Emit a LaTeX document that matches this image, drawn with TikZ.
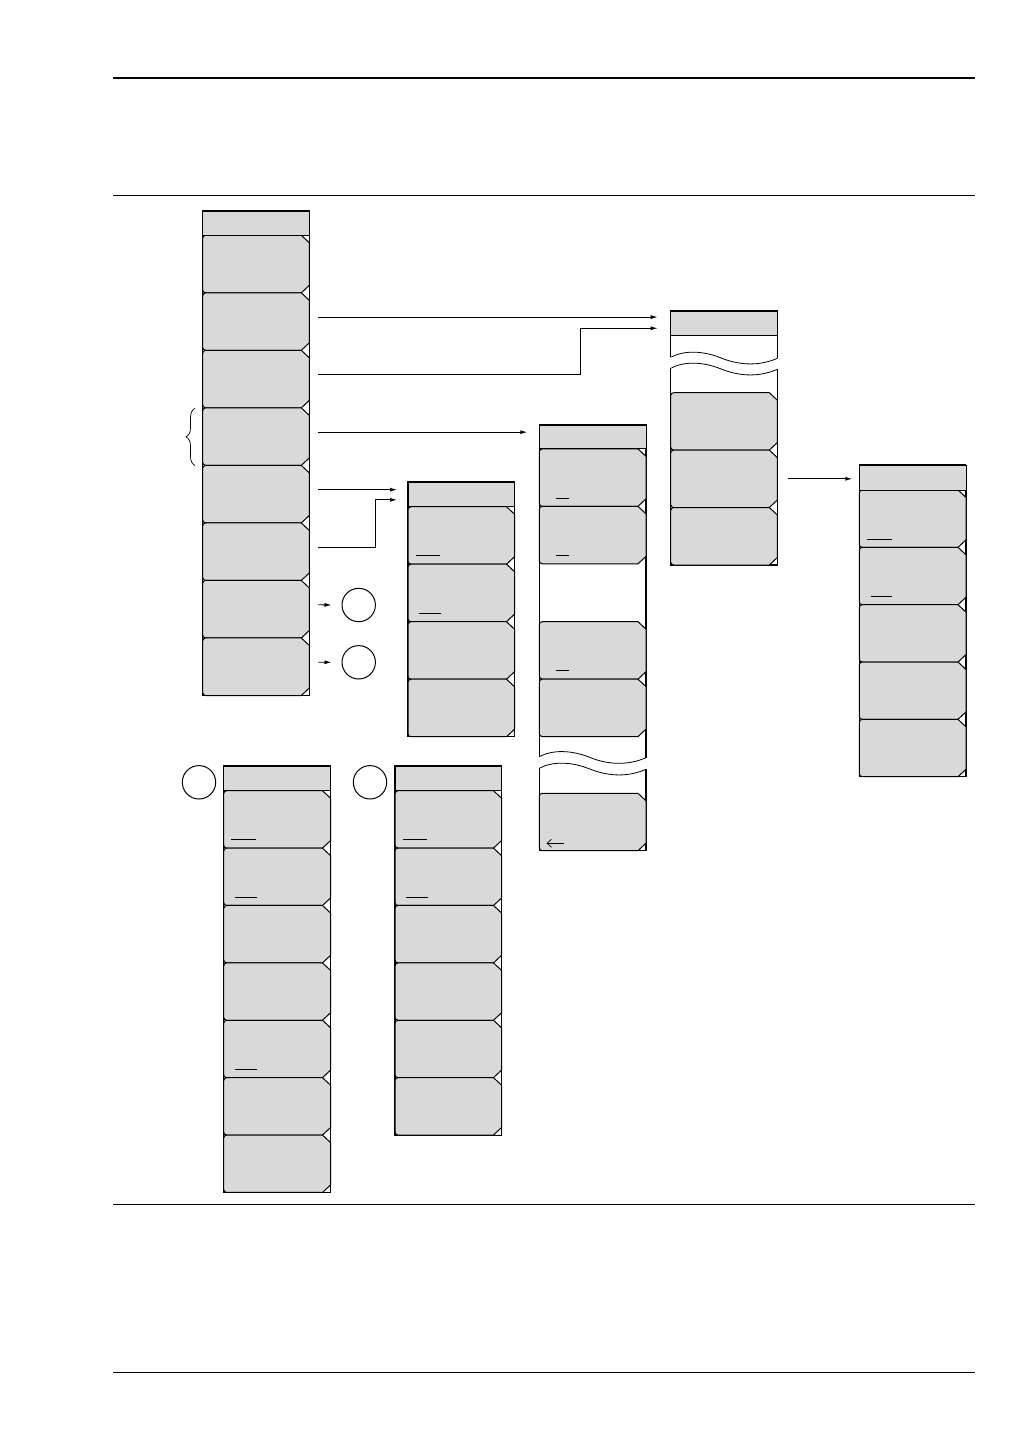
\documentclass[tikz,border=0pt]{standalone}
\usetikzlibrary{arrows.meta,fit,calc,decorations.pathreplacing}
\definecolor{keygray}{RGB}{217,217,217}
\tikzset{
  keynode/.style={inner sep=0pt,outer sep=0pt},
  keyshape/.style={fill=keygray,draw=black,line width=1pt,rounded corners=3pt},
  ttlbox/.style={inner sep=0pt,outer sep=0pt,fill=keygray,draw=black,line width=1pt},
  frame/.style={draw=black,line width=1.1pt},
  wave/.style={draw=black,line width=0.8pt},
  arr/.style={line width=0.9pt,-{Latex[length=7pt,width=4pt]}},
  circ/.style={circle,draw=black,line width=1pt,minimum size=33.4pt,inner sep=0pt},
  uline/.style={line width=0.9pt},
  rule/.style={line width=1pt},
}
\newcommand\skey[5]{%
  \node[keynode,fit={(#2,#3) (#4,#5)}] (#1) {};
  \draw[keyshape] ({#2+15},#5) -- (#2,#5) -- (#2,#3) -- ({#2+15},#3) [sharp corners]
    -- ({#4-8},#3) -- (#4,{#3+7.5}) -- (#4,{#5-7.5}) -- ({#4-8},#5) -- cycle;
}
\newcommand\mtitle[5]{%
  \node[ttlbox,fit={(#2,#3) (#4,#5)}] (#1) {};
  \draw[line width=2pt] (#2,#3) -- (#4,#3);
}
\newcommand\menublock[7]{% name L R titleTop titleBot nkeys step
  \draw[frame] (#2,#4) rectangle (#3,{#5+#6*#7});
  \foreach \i in {1,...,#6}{%
    \pgfmathsetmacro\kt{#5+(\i-1)*#7}%
    \pgfmathsetmacro\kb{#5+\i*#7}%
    \skey{#1k\i}{#2}{\kt}{#3}{\kb}%
  }
  \mtitle{#1t}{#2}{#4}{#3}{#5}%
}
\newcommand\wavepath[3]{% L R y0
  \draw[wave] (#1,#3) .. controls ({#1+0.12*(#2-#1)},{#3-7}) and ({#1+0.3*(#2-#1)},{#3-7}) .. ({#1+0.48*(#2-#1)},{#3+1})
     .. controls ({#1+0.66*(#2-#1)},{#3+8.5}) and ({#1+0.84*(#2-#1)},{#3+8.5}) .. (#2,{#3+1});
}
\begin{document}
\begin{tikzpicture}[x=1pt,y=-1pt]
\useasboundingbox (0,0) rectangle (1032,1456);
\fill[white] (0,0) rectangle (1032,1456);

% page rules
\draw[line width=2pt] (113,77.5) -- (975,77.5);
\draw[rule] (113,195) -- (975,195);
\draw[rule] (113,1204.5) -- (975,1204.5);
\draw[rule] (113,1372) -- (975,1372);

% main menu
\menublock{m1}{202.7}{309.3}{210.7}{235.3}{8}{57.525}
% brace
\draw[line width=0.7pt,decorate,decoration={brace,amplitude=9pt}] (195,465.5) -- (195,408.3);

% menu 2
\menublock{m2}{408}{514.5}{482}{506.7}{4}{57.5}
\draw[uline] (416,555.3) -- (440,555.3);
\draw[uline] (419,613.3) -- (441,613.3);

% menu 3 (with gap and break)
\draw[frame] (539.3,756.7) -- (539.3,424.7) -- (646,424.7) -- (646,757.7);
\draw[frame] (539.3,768.3) -- (539.3,850.7) -- (646,850.7) -- (646,769.3);
\wavepath{539.3}{646}{756.7}
\wavepath{539.3}{646}{768.3}
\skey{m3k1}{539.3}{448.9}{646}{506.35}
\skey{m3k2}{539.3}{506.35}{646}{563.8}
\skey{m3k3}{539.3}{621.7}{646}{679.15}
\skey{m3k4}{539.3}{679.15}{646}{736.6}
\skey{m3k5}{539.3}{793.3}{646}{850.7}
\mtitle{m3t}{539.3}{424.7}{646}{448.9}
\draw[uline] (556,498.3) -- (569,498.3);
\draw[uline] (556,555.5) -- (569,555.5);
\draw[uline] (556,670.5) -- (569,670.5);
\draw[line width=0.7pt] (564,843.3) -- (547,843.3);
\draw[line width=0.7pt] (551.5,839.3) .. controls (550,841.5) .. (547,843.3) .. controls (550,845.1) .. (551.5,847.3);

% menu 4 (with break)
\draw[frame] (670.7,357.3) -- (670.7,311) -- (777.3,311) -- (777.3,358.3);
\draw[frame] (670.7,368.3) -- (670.7,565) -- (777.3,565) -- (777.3,369.3);
\wavepath{670.7}{777.3}{357.3}
\wavepath{670.7}{777.3}{368.3}
\skey{m4k1}{670.7}{392.7}{777.3}{450.1}
\skey{m4k2}{670.7}{450.1}{777.3}{507.5}
\skey{m4k3}{670.7}{507.5}{777.3}{565}
\mtitle{m4t}{670.7}{311}{777.3}{335.5}

% menu 5
\menublock{m5}{859.3}{966}{465.3}{490}{5}{57.34}
\draw[uline] (866.7,539.3) -- (892,539.3);
\draw[uline] (870.7,596) -- (892,596);

% menu 6
\menublock{m6}{223.7}{330.5}{765.7}{790.7}{7}{57.39}
\draw[uline] (231,839.3) -- (256,839.3);
\draw[uline] (235,897) -- (257,897);
\draw[uline] (235,1069.3) -- (257,1069.3);

% menu 7
\menublock{m7}{395}{501.5}{765.7}{790.7}{6}{57.39}
\draw[uline] (402.7,839.3) -- (426.7,839.3);
\draw[uline] (406,897) -- (427.7,897);

% circles
\node[circ] (c1) at (358.7,605) {};
\node[circ] (c2) at (358.7,662.3) {};
\node[circ] (c3) at (199,782.3) {};
\node[circ] (c4) at (370,782.3) {};

% connector ends
\coordinate (m4in) at ([xshift=-13pt]m4t.west);
\coordinate (m3in) at ([xshift=-12pt]m3t.west);
\coordinate (m2in) at ([xshift=-11pt]m2t.west);
\coordinate (m5in) at ([xshift=-7pt]m5t.west);
\foreach \i in {2,...,8}{\coordinate (m1o\i) at ([xshift=9pt,yshift=4.5pt]m1k\i.east);}
\coordinate (m4o2) at ([xshift=11pt]m4k2.east);

% connectors
\draw[arr] (m1o2) -- (m1o2 -| m4in);
\draw[arr] (m1o3) -- ++(262,0) |- ([yshift=-5pt]m4in);
\draw[arr] (m1o4) -- (m1o4 -| m3in);
\draw[arr] (m1o5) -- (m1o5 -| m2in);
\draw[arr] (m1o6) -- ++(57.4,0) |- ([yshift=-5.5pt]m2in);
\draw[arr] (m1o7) -- ([xshift=-10pt]c1.west);
\draw[arr] (m1o8) -- ([xshift=-10pt]c2.west);
\draw[arr] (m4o2) -- (m4o2 -| m5in);
\end{tikzpicture}
\end{document}
